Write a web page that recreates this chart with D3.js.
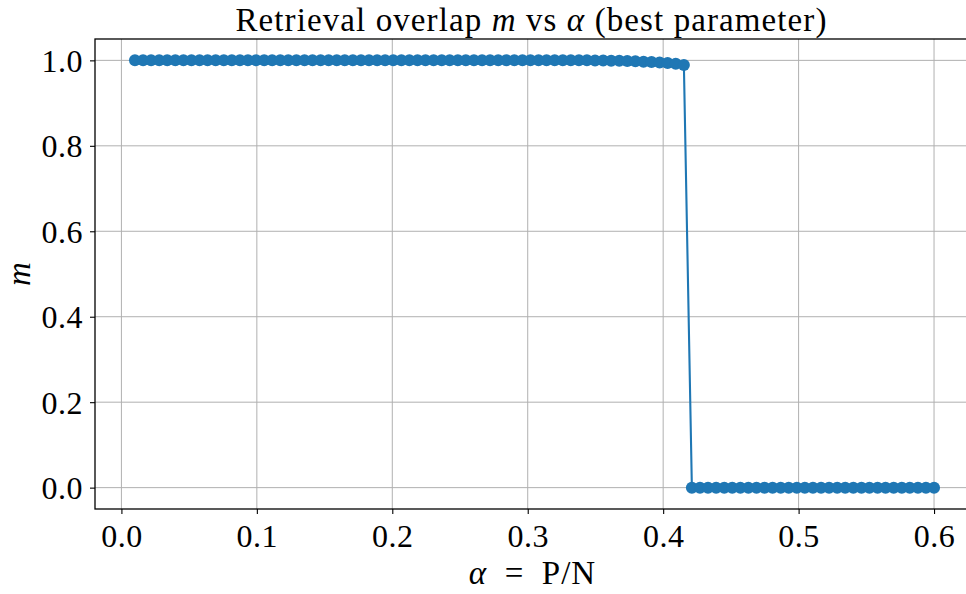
<!DOCTYPE html>
<html lang="en">
<head>
  <meta charset="UTF-8">
  <title>Retrieval overlap m vs alpha</title>
  <script src="https://d3js.org/d3.v7.min.js"></script>
  <style>
    body { margin: 0; background: white; }
    text { font-family: "Liberation Serif", "DejaVu Serif", serif; fill: black; }
    .tick text { font-size: 32px; letter-spacing: 0.5px; }
    .grid line { stroke: #b0b0b0; stroke-width: 1; }
  </style>
</head>
<body>
<div id="chart"></div>
<script>
  // alpha = P/N sample points
  const alphaValues = [
    0.0100, 0.0160, 0.0219, 0.0279, 0.0338, 0.0398, 0.0458, 0.0517, 0.0577, 0.0636,
    0.0696, 0.0756, 0.0815, 0.0875, 0.0934, 0.0994, 0.1054, 0.1113, 0.1173, 0.1232,
    0.1292, 0.1352, 0.1411, 0.1471, 0.1530, 0.1590, 0.1649, 0.1709, 0.1769, 0.1828,
    0.1888, 0.1947, 0.2007, 0.2067, 0.2126, 0.2186, 0.2245, 0.2305, 0.2365, 0.2424,
    0.2484, 0.2543, 0.2603, 0.2663, 0.2722, 0.2782, 0.2841, 0.2901, 0.2961, 0.3020,
    0.3080, 0.3139, 0.3199, 0.3259, 0.3318, 0.3378, 0.3437, 0.3497, 0.3557, 0.3616,
    0.3676, 0.3735, 0.3795, 0.3855, 0.3914, 0.3974, 0.4033, 0.4093, 0.4153, 0.4212,
    0.4272, 0.4331, 0.4391, 0.4451, 0.4510, 0.4570, 0.4629, 0.4689, 0.4749, 0.4808,
    0.4868, 0.4927, 0.4987, 0.5046, 0.5106, 0.5166, 0.5225, 0.5285, 0.5344, 0.5404,
    0.5464, 0.5523, 0.5583, 0.5642, 0.5702, 0.5762, 0.5821, 0.5881, 0.5940, 0.6000
  ];
  // retrieval overlap m
  const mValues = [
    1.000, 1.000, 1.000, 1.000, 1.000, 1.000, 1.000, 1.000, 1.000, 1.000,
    1.000, 1.000, 1.000, 1.000, 1.000, 1.000, 1.000, 1.000, 1.000, 1.000,
    1.000, 1.000, 1.000, 1.000, 1.000, 1.000, 1.000, 1.000, 1.000, 1.000,
    1.000, 1.000, 1.000, 1.000, 1.000, 1.000, 1.000, 1.000, 1.000, 1.000,
    1.000, 1.000, 1.000, 1.000, 1.000, 1.000, 1.000, 1.000, 1.000, 1.000,
    1.000, 1.000, 1.000, 1.000, 1.000, 1.000, 1.000, 0.9995, 0.9995, 0.999,
    0.999, 0.9985, 0.998, 0.997, 0.996, 0.995, 0.994, 0.992, 0.989, 0.000,
    0.000, 0.000, 0.000, 0.000, 0.000, 0.000, 0.000, 0.000, 0.000, 0.000,
    0.000, 0.000, 0.000, 0.000, 0.000, 0.000, 0.000, 0.000, 0.000, 0.000,
    0.000, 0.000, 0.000, 0.000, 0.000, 0.000, 0.000, 0.000, 0.000, 0.000
  ];
  const xTicks = [0.0, 0.1, 0.2, 0.3, 0.4, 0.5, 0.6];
  const yTicks = [0.0, 0.2, 0.4, 0.6, 0.8, 1.0];

  const width = 966, height = 594;
  const mLeft = 95, mRight = 974, mTop = 39, mBottom = 509;

  const svg = d3.select("#chart").append("svg")
    .attr("width", width)
    .attr("height", height);

  const x = d3.scaleLinear().domain([-0.0195, 0.6295]).range([mLeft, mRight]);
  const y = d3.scaleLinear().domain([-0.05, 1.05]).range([mBottom, mTop]);

  // grid
  const grid = svg.append("g").attr("class", "grid");
  grid.selectAll(".gx").data(xTicks).enter().append("line")
    .attr("x1", d => x(d)).attr("x2", d => x(d))
    .attr("y1", mTop).attr("y2", mBottom);
  grid.selectAll(".gy").data(yTicks).enter().append("line")
    .attr("x1", mLeft).attr("x2", mRight)
    .attr("y1", d => y(d)).attr("y2", d => y(d));

  // line + markers
  const pts = alphaValues.map((a, i) => [a, mValues[i]]);
  svg.append("path")
    .datum(pts)
    .attr("fill", "none")
    .attr("stroke", "#1f77b4")
    .attr("stroke-width", 2.1)
    .attr("d", d3.line().x(d => x(d[0])).y(d => y(d[1])));

  svg.selectAll(".dot").data(pts).enter().append("circle")
    .attr("cx", d => x(d[0]))
    .attr("cy", d => y(d[1]))
    .attr("r", 6)
    .attr("fill", "#1f77b4");

  // axes
  const xAxis = d3.axisBottom(x).tickValues(xTicks).tickFormat(d3.format(".1f"))
    .tickSize(5).tickPadding(6);
  const yAxis = d3.axisLeft(y).tickValues(yTicks).tickFormat(d3.format(".1f"))
    .tickSize(5).tickPadding(7);

  const gx = svg.append("g").attr("transform", `translate(0,${mBottom})`).call(xAxis);
  const gy = svg.append("g").attr("transform", `translate(${mLeft},0)`).call(yAxis);
  [gx, gy].forEach(g => {
    g.select(".domain").remove();
    g.selectAll(".tick line").attr("stroke", "black").attr("stroke-width", 1.1);
  });
  gx.selectAll(".tick text").attr("dy", "0.85em");
  gy.selectAll(".tick text").attr("dy", "0.34em");

  // frame
  svg.append("rect")
    .attr("x", mLeft).attr("y", mTop)
    .attr("width", mRight - mLeft).attr("height", mBottom - mTop)
    .attr("fill", "none").attr("stroke", "black").attr("stroke-width", 1.3);

  // title
  const title = svg.append("text")
    .attr("x", (mLeft + mRight) / 2 - 3).attr("y", 31)
    .attr("text-anchor", "middle")
    .style("font-size", "33px").style("letter-spacing", "1.1px");
  title.append("tspan").text("Retrieval overlap ");
  title.append("tspan").style("font-style", "italic").text("m");
  title.append("tspan").text(" vs ");
  title.append("tspan").style("font-style", "italic").text("α");
  title.append("tspan").text(" (best parameter)");

  // x label
  const xl = svg.append("text")
    .attr("x", (mLeft + mRight) / 2 - 2).attr("y", 584)
    .attr("text-anchor", "middle")
    .style("font-size", "33px").style("letter-spacing", "1px");
  xl.append("tspan").style("font-style", "italic").text("α");
  xl.append("tspan").text("\u2002=\u2002P/N");

  // y label
  svg.append("text")
    .attr("transform", `translate(30,${(mTop + mBottom) / 2}) rotate(-90)`)
    .attr("text-anchor", "middle")
    .style("font-size", "33px").style("font-style", "italic")
    .text("m");
</script>
</body>
</html>
